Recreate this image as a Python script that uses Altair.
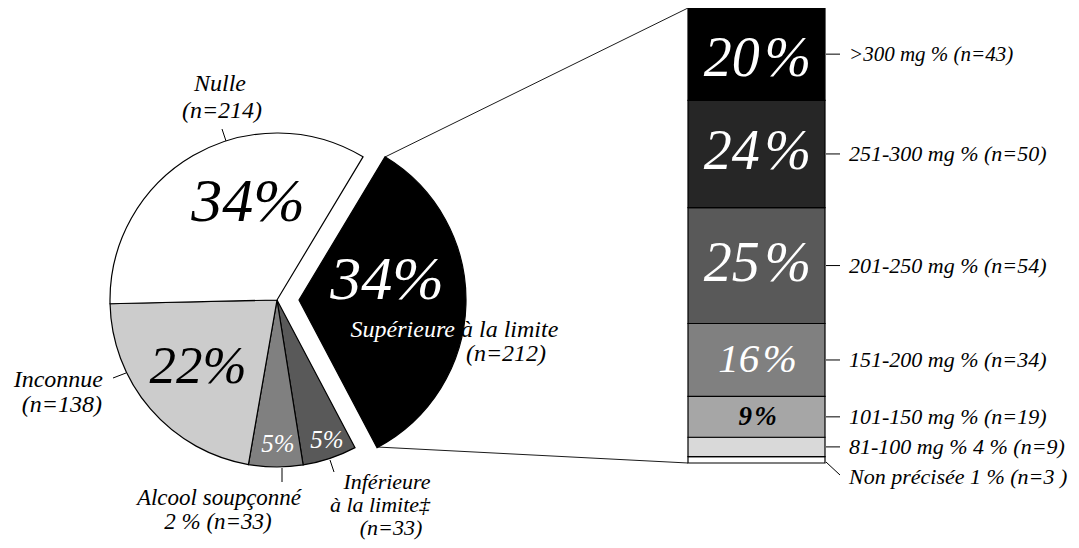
import math
import altair as alt
import pandas as pd

# ---------------- data ----------------
pie_labels = ["Supérieure à la limite", "Inférieure à la limite", "Alcool soupçonné", "Inconnue", "Nulle"]
pie_n = [212, 33, 33, 138, 214]
pie_pct = ["34%", "5%", "5%", "22%", "34%"]
pie_colors = ["#000000", "#595959", "#808080", "#cccccc", "#ffffff"]

# bottom to top
bar_cats = ["Non précisée", "81-100", "101-150", "151-200", "201-250", "251-300", ">300"]
bar_n = [3, 9, 19, 34, 54, 50, 43]
bar_pct = ["1\u200a%", "4\u200a%", "9\u200a%", "16\u200a%", "25\u200a%", "24\u200a%", "20\u200a%"]
bar_side = ["Non précisée 1 % (n=3 )", "81-100 mg % 4 % (n=9)", "101-150 mg %  (n=19)",
            "151-200 mg %  (n=34)", "201-250 mg %  (n=54)", "251-300 mg %  (n=50)", ">300 mg %  (n=43)"]
bar_colors = ["#ffffff", "#d9d9d9", "#a6a6a6", "#808080", "#595959", "#262626", "#000000"]

pie_df = pd.DataFrame({"label": pie_labels, "n": pie_n, "pct": pie_pct, "order": range(len(pie_labels))})
bar_df = pd.DataFrame({"cat": bar_cats, "n": bar_n, "pct": bar_pct, "side": bar_side,
                       "order": range(len(bar_cats))})

FONT = "Liberation Serif"
O = 8  # page margin
total_pie = sum(pie_n)
total_bar = sum(bar_n)

# ---------------- layout ----------------
CX, CY, R = 277 - O, 300 - O, 167
EXPLODE = 22
A0 = math.radians(31)

theta_scale = alt.Scale(domain=[0, total_pie], range=[A0, A0 + 2 * math.pi])
pie_fill = alt.Scale(domain=pie_labels, range=pie_colors)

pie_base = alt.Chart(pie_df).transform_window(
    cum="sum(n)", sort=[alt.SortField("order")], frame=[None, 0]
).transform_calculate(start="datum.cum - datum.n")

pie_main = pie_base.transform_filter(alt.datum.order != 0).mark_arc(
    outerRadius=R, stroke="black", strokeWidth=1.2
).encode(
    theta=alt.Theta("start:Q", scale=theta_scale, stack=None),
    theta2="cum:Q",
    fill=alt.Fill("label:N", scale=pie_fill, legend=None),
    x=alt.value(CX), y=alt.value(CY),
)
pie_exp = pie_base.transform_filter(alt.datum.order == 0).mark_arc(
    outerRadius=R, stroke="black", strokeWidth=1.2
).encode(
    theta=alt.Theta("start:Q", scale=theta_scale, stack=None),
    theta2="cum:Q",
    fill=alt.Fill("label:N", scale=pie_fill, legend=None),
    x=alt.value(CX + EXPLODE), y=alt.value(CY),
)

# bar
BX0, BX1 = 688 - O, 825 - O
y_scale = alt.Scale(domain=[0, total_bar], range=[463 - O, 8 - O])
bar_base = alt.Chart(bar_df).transform_window(
    cum="sum(n)", sort=[alt.SortField("order")], frame=[None, 0]
).transform_calculate(start="datum.cum - datum.n", mid="datum.cum - datum.n / 2")

bars = bar_base.mark_bar(stroke="black", strokeWidth=1.2).encode(
    x=alt.value(BX0), x2=alt.value(BX1),
    y=alt.Y("start:Q", scale=y_scale, axis=None), y2="cum:Q",
    fill=alt.Fill("cat:N", scale=alt.Scale(domain=bar_cats, range=bar_colors), legend=None),
)

BXC = (BX0 + BX1) / 2 + 1
def bar_text(cats, size, color, weight="normal", dy=0):
    return bar_base.transform_filter(alt.FieldOneOfPredicate(field="cat", oneOf=cats)).mark_text(
        font=FONT, fontStyle="italic", fontSize=size, color=color, fontWeight=weight,
        align="center", baseline="middle", dy=dy
    ).encode(x=alt.value(BXC), y=alt.Y("mid:Q", scale=y_scale, axis=None), text="pct:N")

bar_pct_big = bar_text([">300"], 56, "white", dy=5)
bar_pct_big2 = bar_text(["251-300", "201-250"], 56, "white", dy=-2)
bar_pct_mid = bar_text(["151-200"], 41, "white")
bar_pct_small = bar_text(["101-150"], 27, "black", weight="bold")

SIDE_X = 849 - O
side_main = bar_base.transform_filter(
    alt.FieldOneOfPredicate(field="cat", oneOf=bar_cats[1:6])
)
side_ticks = side_main.mark_rule(color="black", strokeWidth=1).encode(
    x=alt.value(826 - O), x2=alt.value(840 - O), y=alt.Y("mid:Q", scale=y_scale, axis=None)
)
side_text = side_main.mark_text(
    font=FONT, fontStyle="italic", fontSize=22, align="left", baseline="middle"
).encode(x=alt.value(SIDE_X), y=alt.Y("mid:Q", scale=y_scale, axis=None), text="side:N")

top_side = bar_base.transform_filter(alt.datum.cat == ">300")
top_tick = top_side.mark_rule(color="black", strokeWidth=1).encode(
    x=alt.value(826 - O), x2=alt.value(840 - O), y=alt.Y("mid:Q", scale=y_scale, axis=None)
)
top_text = top_side.mark_text(
    font=FONT, fontStyle="italic", fontSize=21, align="left", baseline="middle", dy=1
).encode(x=alt.value(SIDE_X), y=alt.Y("mid:Q", scale=y_scale, axis=None), text="side:N")

np_side = bar_base.transform_filter(alt.datum.cat == "Non précisée")
np_text = np_side.mark_text(
    font=FONT, fontStyle="italic", fontSize=22, align="left", baseline="middle", dy=17
).encode(x=alt.value(SIDE_X), y=alt.Y("mid:Q", scale=y_scale, axis=None), text="side:N")


def seg(x1, y1, x2, y2, w=1):
    return alt.Chart(pd.DataFrame({"k": [0]})).mark_rule(color="black", strokeWidth=w).encode(
        x=alt.value(x1 - O), y=alt.value(y1 - O), x2=alt.value(x2 - O), y2=alt.value(y2 - O)
    )


def txt(t, x, y, size=24, color="black", align="center"):
    return alt.Chart(pd.DataFrame({"t": [t]})).mark_text(
        font=FONT, fontStyle="italic", fontSize=size, color=color, align=align,
        baseline="middle"
    ).encode(x=alt.value(x - O), y=alt.value(y - O), text="t:N")


np_tick = seg(826, 462, 840, 475)
conn_top = seg(385, 157, 688, 8, 0.9)
conn_bot = seg(377, 447, 688, 463, 0.9)
lead_nulle = seg(222, 129, 226, 141)
lead_inc = seg(113, 378, 126, 373)
lead_alc = seg(282, 468, 282, 482)
lead_inf = seg(330, 460, 334, 472)

labels = [
    txt("Nulle", 220, 84),
    txt("(n=214)", 222, 111),
    txt(pie_pct[4], 248, 202, size=62),
    txt(pie_pct[0], 387, 280, size=62, color="white"),
    txt("Supérieure", 455, 330, color="white", align="right"),
    txt("à la limite", 461, 330, align="left"),
    txt("(n=212)", 506, 354),
    txt(pie_pct[3], 198, 367, size=53),
    txt("Inconnue", 103, 380, align="right"),
    txt("(n=138)", 102, 405, align="right"),
    txt(pie_pct[2], 278, 444, size=25, color="white"),
    txt(pie_pct[1], 327, 440, size=25, color="white"),
    txt("Alcool soupçonné", 219, 498, size=23),
    txt("2 % (n=33)", 218, 522, size=23),
    txt("Inférieure", 387, 482, size=22),
    txt("à la limite\u2021", 380, 505, size=22),
    txt("(n=33)", 391, 528, size=22),
]

chart = alt.layer(
    pie_main, pie_exp, bars,
    bar_pct_big, bar_pct_big2, bar_pct_mid, bar_pct_small,
    side_ticks, side_text, top_tick, top_text, np_text, np_tick,
    conn_top, conn_bot, lead_nulle, lead_inc, lead_alc, lead_inf,
    *labels,
).resolve_scale(fill="independent").properties(
    width=1079 - 2 * O, height=548 - 2 * O, padding=0, background="white",
    autosize=alt.AutoSizeParams(type="none"),
).configure_view(stroke=None)

chart.save("out.html", embed_options={"renderer": "svg", "actions": False})
